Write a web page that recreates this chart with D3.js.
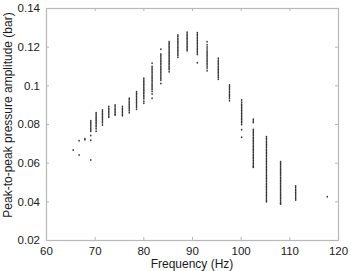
<!DOCTYPE html>
<html><head><meta charset="utf-8">
<script src="https://cdn.jsdelivr.net/npm/d3@7"></script>
<style>body{margin:0;background:#fff}svg{display:block}</style>
</head><body>
<svg id="c" width="351" height="271"></svg>
<script>
const frequencies = [65.6, 66.8, 68.0, 69.2, 70.3, 71.6, 72.9, 74.2, 75.7, 77.1, 78.6, 80.1, 81.8, 83.6, 85.3, 87.1, 89.0, 91.1, 93.1, 95.4, 97.7, 100.2, 102.6, 105.3, 108.2, 111.3, 117.8];
const amplitudes = [
 [0.0665],
 [0.0713, 0.0640],
 [0.0724, 0.0719],
 [0.0817, 0.0809, 0.0801, 0.0793, 0.0785, 0.0777, 0.0769, 0.0762, 0.0741, 0.0716, 0.0614],
 [0.0858, 0.0850, 0.0842, 0.0834, 0.0826, 0.0818, 0.0810, 0.0802, 0.0794, 0.0786, 0.0775, 0.0762],
 [0.0872, 0.0864, 0.0856, 0.0848, 0.0840, 0.0832, 0.0824, 0.0816, 0.0806, 0.0795],
 [0.0890, 0.0882, 0.0874, 0.0866, 0.0858, 0.0850, 0.0842, 0.0835],
 [0.0898, 0.0890, 0.0882, 0.0874, 0.0866, 0.0858, 0.0850, 0.0846],
 [0.0890, 0.0882, 0.0874, 0.0866, 0.0858, 0.0850, 0.0843],
 [0.0933, 0.0925, 0.0917, 0.0909, 0.0901, 0.0893, 0.0885, 0.0877, 0.0869, 0.0858],
 [0.0967, 0.0959, 0.0951, 0.0943, 0.0935, 0.0927, 0.0919, 0.0911, 0.0903, 0.0895, 0.0887, 0.0876],
 [0.1036, 0.1028, 0.1020, 0.1012, 0.1004, 0.0996, 0.0988, 0.0980, 0.0972, 0.0964, 0.0956, 0.0948, 0.0940, 0.0930, 0.0918, 0.0907],
 [0.1114, 0.1098, 0.1090, 0.1082, 0.1074, 0.1066, 0.1058, 0.1050, 0.1042, 0.1034, 0.1026, 0.1018, 0.1010, 0.1002, 0.0994, 0.0986, 0.0978, 0.0968, 0.0955, 0.0933],
 [0.1186, 0.1162, 0.1154, 0.1146, 0.1138, 0.1130, 0.1122, 0.1114, 0.1106, 0.1098, 0.1090, 0.1082, 0.1074, 0.1066, 0.1058, 0.1050, 0.1042, 0.1034, 0.1026, 0.1010],
 [0.1226, 0.1218, 0.1210, 0.1202, 0.1194, 0.1186, 0.1178, 0.1170, 0.1162, 0.1154, 0.1146, 0.1138, 0.1130, 0.1122, 0.1114, 0.1106, 0.1098, 0.1090, 0.1082, 0.1070],
 [0.1260, 0.1252, 0.1244, 0.1236, 0.1228, 0.1220, 0.1212, 0.1204, 0.1196, 0.1188, 0.1180, 0.1172, 0.1164, 0.1156, 0.1145],
 [0.1274, 0.1266, 0.1258, 0.1250, 0.1242, 0.1234, 0.1226, 0.1218, 0.1210, 0.1202, 0.1194, 0.1186, 0.1179],
 [0.1272, 0.1264, 0.1256, 0.1248, 0.1240, 0.1232, 0.1224, 0.1216, 0.1208, 0.1200, 0.1192, 0.1184, 0.1176, 0.1168, 0.1160, 0.1117],
 [0.1226, 0.1210, 0.1198, 0.1188, 0.1178, 0.1170, 0.1162, 0.1154, 0.1146, 0.1138, 0.1130, 0.1122, 0.1114, 0.1106, 0.1098, 0.1088, 0.1076],
 [0.1140, 0.1130, 0.1122, 0.1114, 0.1106, 0.1098, 0.1090, 0.1082, 0.1074, 0.1066, 0.1058, 0.1050, 0.1042, 0.1031],
 [0.1002, 0.0994, 0.0986, 0.0978, 0.0970, 0.0962, 0.0954, 0.0946, 0.0940, 0.0932, 0.0920],
 [0.0924, 0.0912, 0.0902, 0.0894, 0.0886, 0.0878, 0.0870, 0.0862, 0.0854, 0.0846, 0.0838, 0.0830, 0.0822, 0.0814, 0.0806, 0.0798, 0.0770, 0.0731],
 [0.0824, 0.0816, 0.0808, 0.0772, 0.0764, 0.0756, 0.0748, 0.0740, 0.0732, 0.0724, 0.0716, 0.0708, 0.0700, 0.0692, 0.0684, 0.0676, 0.0668, 0.0660, 0.0652, 0.0644, 0.0636, 0.0628, 0.0620, 0.0612, 0.0604, 0.0596, 0.0588, 0.0580, 0.0576],
 [0.0734, 0.0726, 0.0718, 0.0710, 0.0702, 0.0694, 0.0686, 0.0678, 0.0670, 0.0662, 0.0654, 0.0646, 0.0638, 0.0630, 0.0622, 0.0614, 0.0606, 0.0598, 0.0590, 0.0582, 0.0574, 0.0566, 0.0558, 0.0550, 0.0542, 0.0534, 0.0526, 0.0518, 0.0510, 0.0502, 0.0494, 0.0486, 0.0478, 0.0470, 0.0462, 0.0454, 0.0446, 0.0438, 0.0430, 0.0422, 0.0414, 0.0406, 0.0398],
 [0.0605, 0.0597, 0.0589, 0.0581, 0.0573, 0.0565, 0.0557, 0.0549, 0.0541, 0.0533, 0.0525, 0.0517, 0.0509, 0.0501, 0.0493, 0.0485, 0.0477, 0.0469, 0.0461, 0.0453, 0.0445, 0.0437, 0.0429, 0.0421, 0.0413, 0.0405, 0.0397, 0.0390, 0.0386],
 [0.0479, 0.0471, 0.0463, 0.0455, 0.0447, 0.0439, 0.0431, 0.0423, 0.0415, 0.0407],
 [0.0424]
];
const xTicks = [60, 70, 80, 90, 100, 110, 120];
const yTicks = [0.02, 0.04, 0.06, 0.08, 0.1, 0.12, 0.14];
const xTitle = "Frequency (Hz)";
const yTitle = "Peak-to-peak pressure amplitude (bar)";

const L = 46, R = 338, T = 8, B = 240;
const svg = d3.select("#c");
const x = d3.scaleLinear().domain([60, 120]).range([L, R]);
const y = d3.scaleLinear().domain([0.02, 0.14]).range([B, T]);
const font = "Liberation Sans, Arial, Helvetica, sans-serif";
const axisCol = "#b8b8b8";

function styleAxis(g, noText) {
  g.select(".domain").remove();
  g.selectAll(".tick line").attr("stroke", axisCol).attr("stroke-width", 1);
  g.selectAll(".tick text").attr("fill", "#1a1a1a").style("font-family", font).style("font-size", "11.5px");
  if (noText) g.selectAll(".tick text").remove();
}
svg.append("g").attr("transform", `translate(0,${B})`)
  .call(d3.axisBottom(x).tickValues(xTicks).tickFormat(d3.format("d")).tickSizeInner(-3).tickSizeOuter(0).tickPadding(7))
  .call(g => styleAxis(g));
svg.append("g").attr("transform", `translate(0,${T})`)
  .call(d3.axisTop(x).tickValues(xTicks).tickSizeInner(-3).tickSizeOuter(0))
  .call(g => styleAxis(g, true));
svg.append("g").attr("transform", `translate(${L},0)`)
  .call(d3.axisLeft(y).tickValues(yTicks).tickFormat(d => String(+d.toFixed(2))).tickSizeInner(-3).tickSizeOuter(0).tickPadding(6))
  .call(g => styleAxis(g));
svg.append("g").attr("transform", `translate(${R},0)`)
  .call(d3.axisRight(y).tickValues(yTicks).tickSizeInner(-3).tickSizeOuter(0))
  .call(g => styleAxis(g, true));

svg.append("rect").attr("x", L + 0.5).attr("y", T + 0.5).attr("width", R - L).attr("height", B - T)
  .attr("fill", "none").attr("stroke", axisCol).attr("stroke-width", 1.2);

const pts = [];
frequencies.forEach((f, i) => amplitudes[i].forEach(v => pts.push([f, v])));
svg.append("g").selectAll("ellipse").data(pts).join("ellipse")
  .attr("cx", d => x(d[0])).attr("cy", d => y(d[1])).attr("rx", 0.8).attr("ry", 1.0)
  .attr("fill", "#333");

svg.append("text").attr("x", (L + R) / 2).attr("y", 268).attr("text-anchor", "middle")
  .style("font-family", font).style("font-size", "12px").attr("fill", "#1a1a1a").text(xTitle);
svg.append("text").attr("transform", `translate(12,${(T + B) / 2 - 9}) rotate(-90)`).attr("text-anchor", "middle")
  .style("font-family", font).style("font-size", "12px").attr("fill", "#1a1a1a").text(yTitle);
</script>
</body></html>
